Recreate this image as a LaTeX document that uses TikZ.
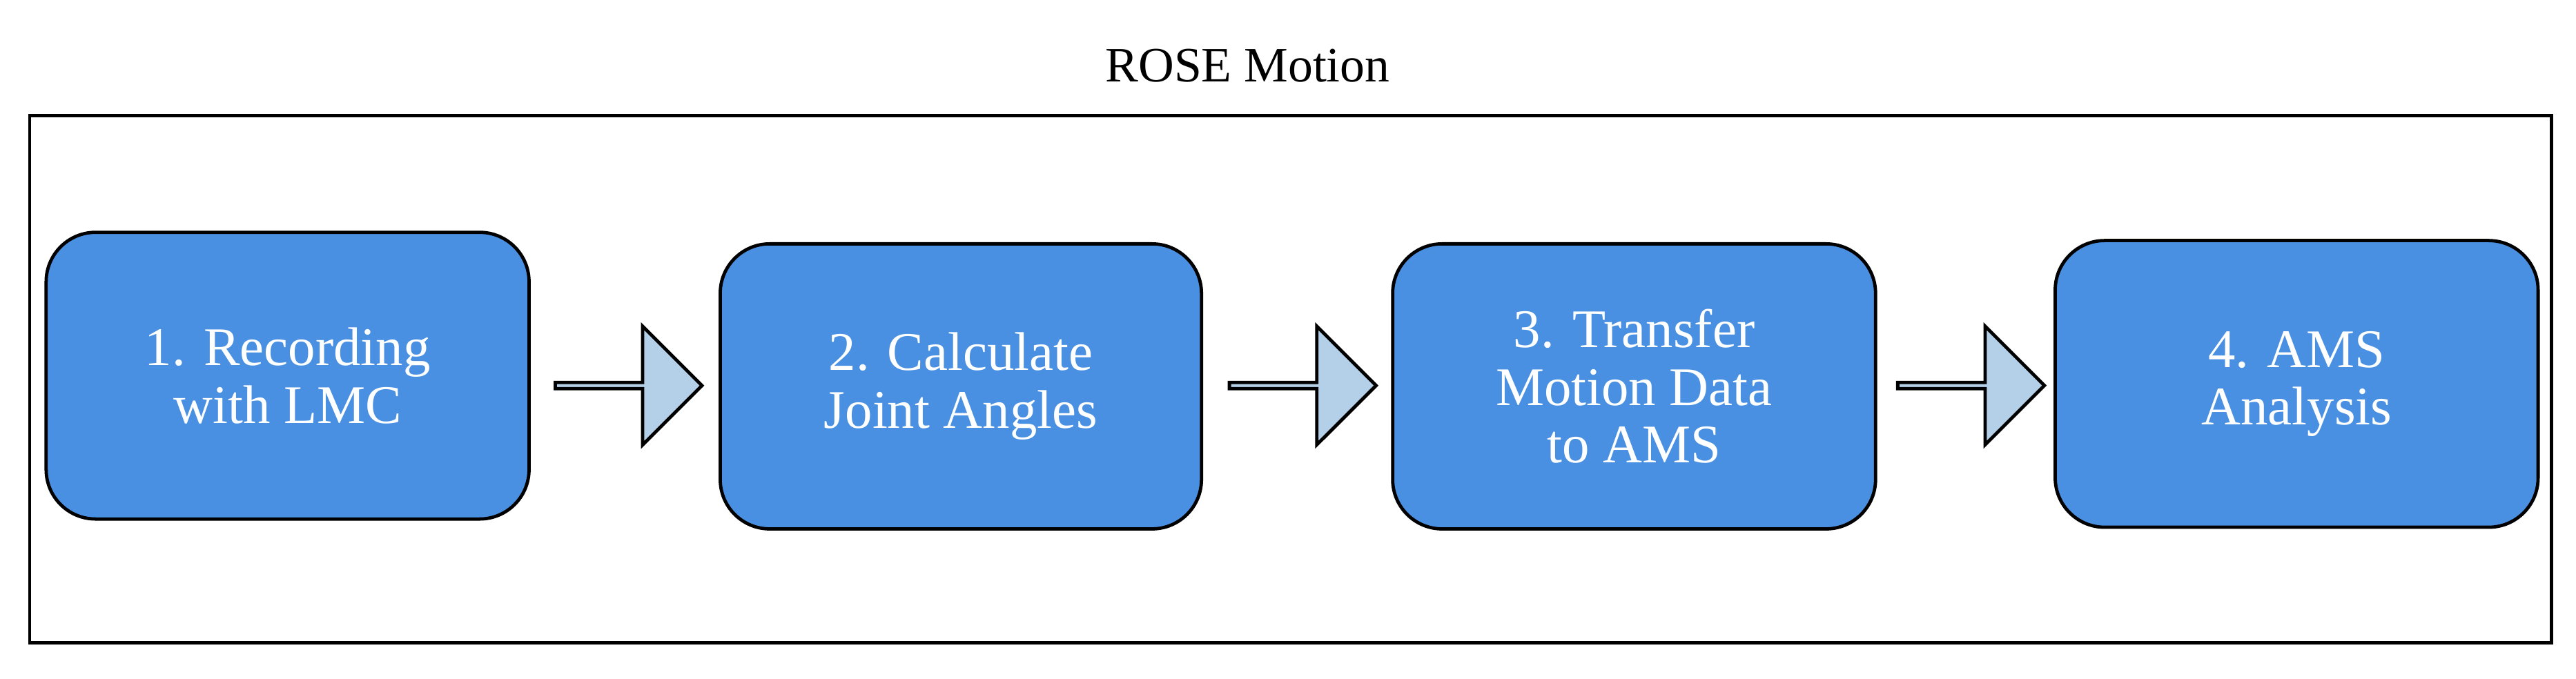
\documentclass[tikz,border=0pt]{standalone}
\usepackage{fontspec}
\setmainfont{Liberation Serif}
\usetikzlibrary{shapes.arrows}
\definecolor{boxblue}{HTML}{4A90E2}
\definecolor{arrblue}{HTML}{B4D0E8}
\begin{document}
\begin{tikzpicture}[x=0.5pt,y=-0.5pt,
  stepbox/.style={draw=black,line width=1pt,fill=boxblue,rounded corners=15pt,
    text=white,align=center,font=\fontsize{16.5}{17.5}\selectfont},
  blk/.style={single arrow,draw=black,line width=1pt,fill=arrblue,
    minimum height=44.5pt,minimum width=36pt,single arrow head extend=9pt,inner sep=0pt}]
\useasboundingbox (0,0) rectangle (1563,412);
\node[draw=black,line width=1pt,minimum width=765pt,minimum height=160pt,inner sep=0pt] (frame) at (783,230) {};
\node[font=\fontsize{15}{17}\selectfont] (title) at (757,40) {ROSE Motion};
\node[stepbox,minimum width=146.5pt,minimum height=87pt] (b1) at (174.5,228) {1. Recording\\with LMC};
\node[stepbox,minimum width=146pt,minimum height=86.5pt] (b2) at (583,234.5) {2. Calculate\\Joint Angles};
\node[stepbox,minimum width=146.5pt,minimum height=86.5pt] (b3) at (991.5,234.5) {3. Transfer\\Motion Data\\to AMS};
\node[stepbox,minimum width=146.5pt,minimum height=87pt] (b4) at (1393.5,233) {4. AMS\\Analysis};
\node[blk] (a1) at (380.5,234) {};
\node[blk] (a2) at (789.5,234) {};
\node[blk] (a3) at (1195,234) {};
\end{tikzpicture}
\end{document}
